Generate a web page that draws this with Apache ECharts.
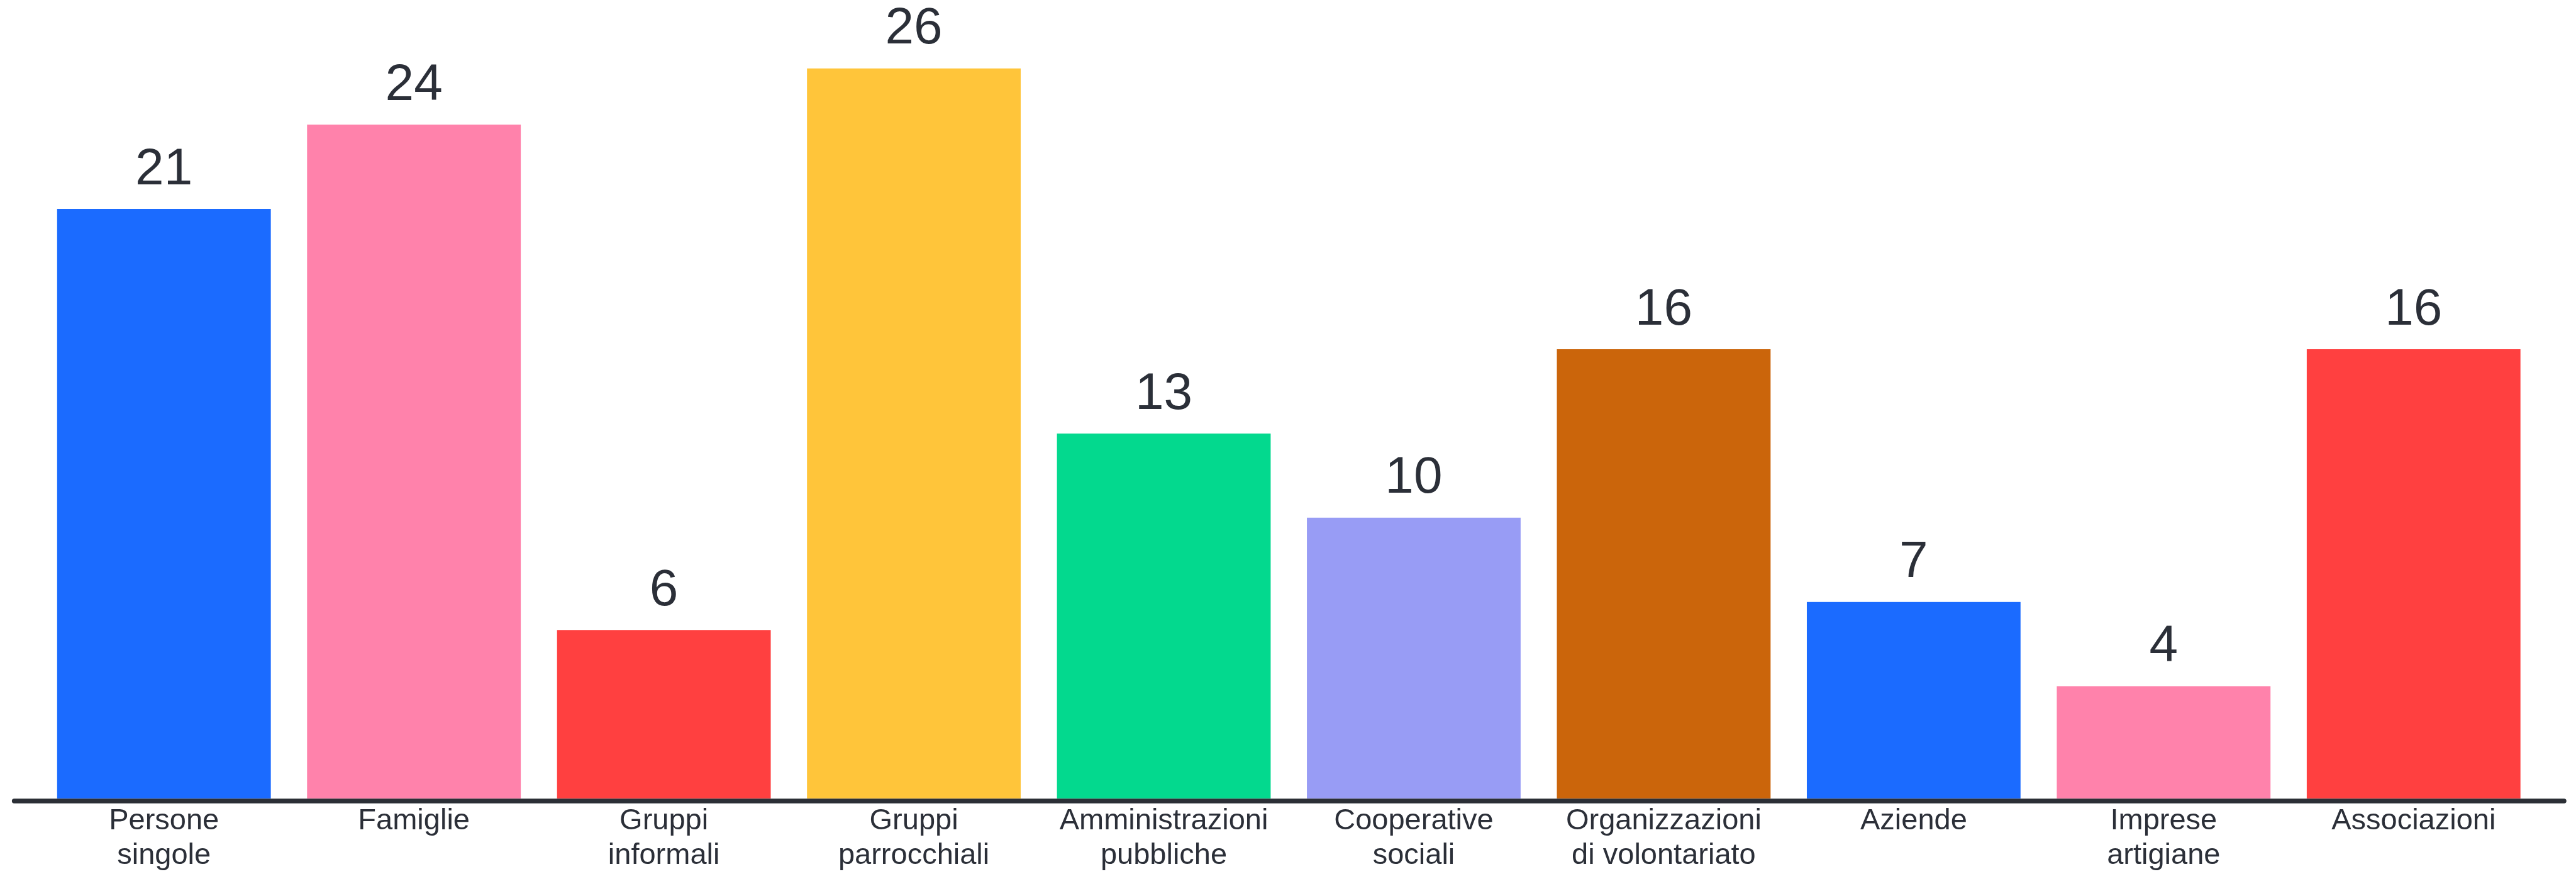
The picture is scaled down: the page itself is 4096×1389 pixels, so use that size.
<!DOCTYPE html>
<html><head><meta charset="utf-8">
<script src="https://cdn.jsdelivr.net/npm/echarts@6/dist/echarts.min.js"></script>
<style>html,body{margin:0;padding:0;background:#fff}#c{width:4096px;height:1389px}</style>
</head><body><div id="c"></div>
<script>
const categories = ["Persone\nsingole","Famiglie","Gruppi\ninformali","Gruppi\nparrocchiali","Amministrazioni\npubbliche","Cooperative\nsociali","Organizzazioni\ndi volontariato","Aziende","Imprese\nartigiane","Associazioni"];
const values = [21,24,6,26,13,10,16,7,4,16];
const colors = ["#1b6bff","#ff82ab","#ff4040","#ffc53a","#03d98e","#989cf5","#cb650b","#1b6bff","#ff82ab","#ff4040"];
const FONT = "Liberation Sans, Arial, sans-serif";
const TXT = "#2b2f38";
const chart = echarts.init(document.getElementById('c'), null, {renderer:'canvas'});
chart.setOption({
  animation:false,
  backgroundColor:'#ffffff',
  grid:[
    {left:62, right:59.5, top:19.6, bottom:120, containLabel:false},
    {left:22.6, right:19, top:1100, bottom:116.5, containLabel:false}
  ],
  xAxis:[
    {type:'category', gridIndex:0, data:categories,
     axisLine:{show:false}, axisTick:{show:false},
     axisLabel:{color:TXT, fontSize:47, fontFamily:FONT, lineHeight:55.5, margin:8, interval:0}},
    {type:'value', gridIndex:1, min:0, max:1, axisLine:{show:true, lineStyle:{color:'#2b2f36', width:7.5}},
     axisTick:{show:false}, axisLabel:{show:false}, splitLine:{show:false}, z:5}
  ],
  yAxis:[
    {type:'value', gridIndex:0, min:0, max:28, show:false, splitLine:{show:false}},
    {type:'value', gridIndex:1, show:false, splitLine:{show:false}}
  ],
  series:[{
    type:'bar', xAxisIndex:0, yAxisIndex:0,
    barWidth:'85.5%',
    data: values.map((v,i)=>({value:v, itemStyle:{color:colors[i]}})),
    label:{show:true, position:'top', distance:21, color:TXT, fontSize:82, fontFamily:FONT}
  }]
});
</script></body></html>
